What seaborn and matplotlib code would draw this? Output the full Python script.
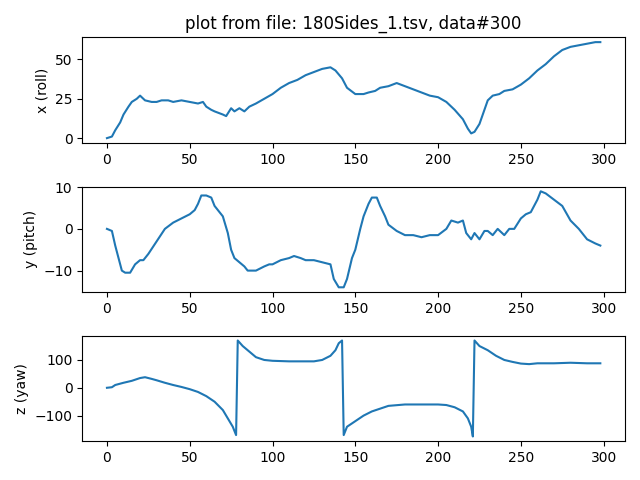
import matplotlib
matplotlib.use("Agg")
import matplotlib.pyplot as plt
import seaborn as sns
import pandas as pd

roll_t = [0,3,5,8,10,13,15,18,20,23,27,30,33,37,40,45,50,55,58,60,63,65,70,72,75,77,80,83,86,90,95,100,105,110,115,120,125,130,135,138,142,145,150,155,158,162,165,170,175,180,185,190,195,200,205,210,215,218,220,222,225,228,230,233,237,240,245,250,255,260,265,270,275,280,285,290,295,298]
roll = [0,1,5,10,15,20,23,25,27,24,23,23,24,24,23,24,23,22,23,20,18,17,15,14,19,17,19,17,20,22,25,28,32,35,37,40,42,44,45,43,38,32,28,28,29,30,32,33,35,33,31,29,27,26,23,18,12,6,3,4,9,18,24,27,28,30,31,34,38,43,47,52,56,58,59,60,61,61]

pitch_t = [0,3,5,7,9,11,14,17,20,22,25,30,35,40,45,50,53,55,57,60,63,65,68,70,73,75,77,80,83,85,90,95,98,100,105,110,113,117,120,125,130,135,137,140,143,145,148,150,153,155,158,160,163,165,168,170,175,180,185,190,195,200,205,208,212,215,217,220,222,225,228,230,233,236,240,243,246,250,253,256,260,262,265,270,275,280,285,290,295,298]
pitch = [0,-0.5,-4,-7,-10,-10.5,-10.5,-8.5,-7.5,-7.5,-6,-3,0,1.5,2.5,3.5,4.5,6,8,8,7.5,5.5,4,3,-1,-5,-7,-8,-9,-10,-10,-9,-8.5,-8.5,-7.5,-7,-6.5,-7,-7.5,-7.5,-8,-8.5,-12,-14,-14,-12,-7,-5,0,3,6,7.5,7.5,5.5,3,1,-0.5,-1.5,-1.5,-2,-1.5,-1.5,0,2,1.5,2,-1,-2.5,-1,-2.5,-0.5,-0.5,-1.5,0,-1.5,0,0,2.5,3.5,4,7,9,8.5,7,5.5,2,0,-2.5,-3.5,-4]

yaw_t = [0,3,5,10,15,20,23,27,30,35,40,45,50,55,60,65,70,73,76,78,79,82,87,90,95,100,110,120,125,130,135,138,140,142,143,145,150,155,160,165,170,180,190,200,205,210,215,218,220,221,222,225,230,235,240,245,250,255,260,265,270,280,290,298]
yaw = [0,2,10,18,25,35,38,32,27,18,10,3,-5,-15,-30,-50,-80,-110,-140,-170,170,150,125,110,100,97,95,95,95,100,115,135,160,170,-170,-140,-120,-100,-85,-75,-65,-60,-60,-60,-62,-70,-85,-110,-140,-175,170,150,135,115,100,93,87,85,88,88,88,90,88,88]

fig, axes = plt.subplots(3, 1, figsize=(6.4, 4.8), dpi=100)
sns.lineplot(data=pd.DataFrame({"t": roll_t, "v": roll}), x="t", y="v", ax=axes[0])
sns.lineplot(data=pd.DataFrame({"t": pitch_t, "v": pitch}), x="t", y="v", ax=axes[1])
sns.lineplot(data=pd.DataFrame({"t": yaw_t, "v": yaw}), x="t", y="v", ax=axes[2])
for ax, lab in zip(axes, ["x (roll)", "y (pitch)", "z (yaw)"]):
    ax.set_ylabel(lab)
    ax.set_xlabel("")
    ax.set_xticks([0, 50, 100, 150, 200, 250, 300])
axes[0].set_title("plot from file: 180Sides_1.tsv, data#300")
fig.tight_layout()
fig.savefig("out.png")
